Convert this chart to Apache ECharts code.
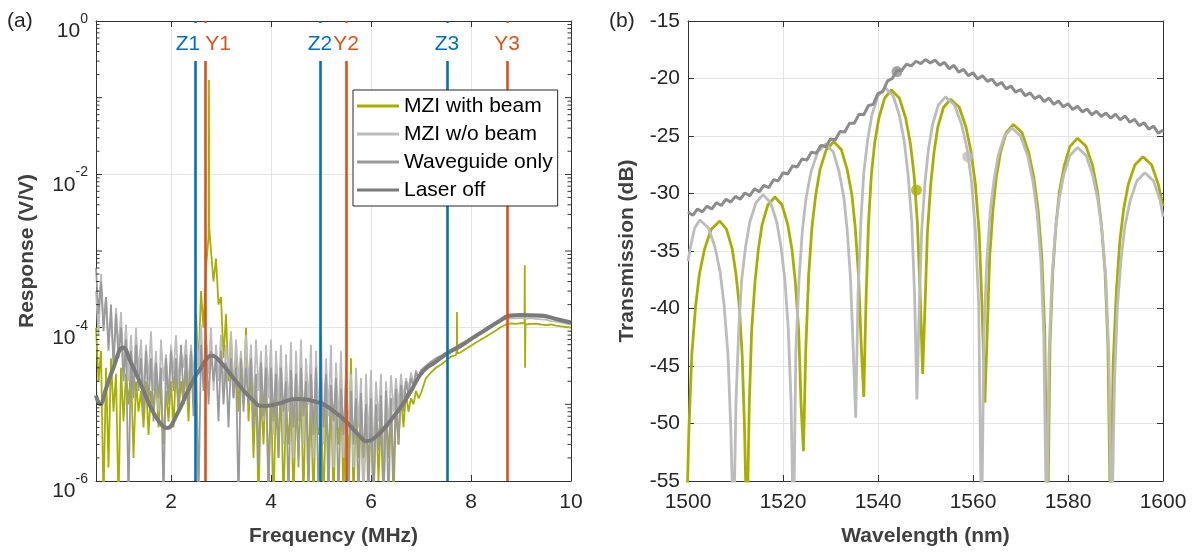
<!DOCTYPE html>
<html><head><meta charset="utf-8">
<script src="https://cdn.jsdelivr.net/npm/echarts@6/dist/echarts.min.js"></script>
<style>html,body{margin:0;padding:0;background:#fff}#c{width:1195px;height:552px}</style>
</head><body><div id="c"></div>
<script>
const FONT = '"Liberation Sans", Arial, Helvetica, sans-serif';

// ---------- Panel (a): frequency response ----------
const freqNoisy = [
0.5,0.55,0.6,0.65,0.7,0.75,0.8,0.85,0.9,0.95,
1,1.05,1.1,1.15,1.2,1.25,1.3,1.35,1.4,1.45,
1.5,1.55,1.6,1.65,1.7,1.75,1.8,1.85,1.9,1.95,
2,2.05,2.1,2.15,2.2,2.25,2.3,2.35,2.4,2.45,
2.5,2.55,2.6,2.65,2.7,2.75,2.8,2.85,2.9,2.95,
3,3.05,3.1,3.15,3.2,3.25,3.3,3.35,3.4,3.45,
3.5,3.55,3.6,3.65,3.7,3.75,3.8,3.85,3.9,3.95,
4,4.05,4.1,4.15,4.2,4.25,4.3,4.35,4.4,4.45,
4.5,4.55,4.6,4.65,4.7,4.75,4.8,4.85,4.9,4.95,
5,5.05,5.1,5.15,5.2,5.25,5.3,5.35,5.4,5.45,
5.5,5.55,5.6,5.65,5.7,5.75,5.8,5.85,5.9,5.95,
6,6.05,6.1,6.15,6.2,6.25,6.3,6.35,6.4,6.45,
6.5,6.55,6.6,6.65,6.7,6.75,6.8,6.85,6.9,6.95,
7,7.1,7.2,7.3,7.4,7.5,7.6,7.7,7.8,7.9,
8,8.1,8.2,8.3,8.4,8.5,8.6,8.7,8.8,8.9,
9,9.1,9.2,9.3,9.4,9.5,9.6,9.7,9.8,9.9,
10];

const mziBeam = [
1e-4,2e-5,5e-5,5e-7,3e-5,1.5e-6,4e-5,8e-6,2.5e-5,5e-7,
3e-5,6e-6,2.5e-5,1e-5,3e-5,2e-6,2e-5,8e-6,1.5e-5,5e-6,
2e-5,4e-6,1.5e-5,7e-6,2.5e-5,5e-6,1.8e-5,3e-6,1.5e-5,6e-6,
2e-5,5e-6,3e-5,8e-6,2e-5,1e-5,3e-5,6e-6,5e-5,1e-5,
1.5e-4,3e-5,3e-4,1e-4,6e-4,1.5e-3,1e-3,4e-4,8e-4,2e-4,
2.5e-4,4e-5,1.5e-4,2e-5,8e-5,1.5e-5,5e-5,8e-6,4e-5,1e-5,
1e-4,6e-6,3e-5,2e-6,2e-5,5e-7,1.5e-5,3e-6,2e-5,1e-6,
1.5e-5,5e-7,1.2e-5,2e-6,1.8e-5,5e-7,1e-5,3e-6,1.5e-5,5e-7,
1.2e-5,2e-6,1.8e-5,5e-7,2.5e-5,1.5e-6,1e-5,5e-7,1.5e-5,4e-6,
1.2e-5,5e-7,1e-5,2e-6,1.5e-5,5e-7,1.2e-5,3e-6,2e-5,5e-7,
3e-5,1e-6,4e-5,5e-7,1.2e-5,2e-6,8e-6,5e-7,1e-5,1.5e-6,
8e-6,5e-7,1e-5,1e-6,7e-6,5e-7,9e-6,2e-6,1.2e-5,5e-7,
1e-5,3e-6,1.3e-5,5e-6,1.4e-5,8e-6,1.2e-5,1e-5,1.5e-5,1.2e-5,
1.4e-5,2.2e-5,2.6e-5,3e-5,3.3e-5,3.7e-5,4.2e-5,4.4e-5,4.8e-5,5.3e-5,
5.8e-5,6.4e-5,7e-5,7.6e-5,8.4e-5,9.2e-5,1.02e-4,1.1e-4,1.14e-4,1.12e-4,
1.15e-4,1.1e-4,1.12e-4,1.13e-4,1.1e-4,1.08e-4,1.1e-4,1.06e-4,1.04e-4,1.02e-4,
1e-4];
const mziBeamSpikeFreq = [2.755, 2.76, 2.765, 7.71, 7.715, 7.72, 7.725, 7.73, 9.07, 9.075, 9.082, 9.09];
const mziBeamSpikeVals = [2e-3, 0.17, 2e-3, 4.5e-5, 5e-5, 1.6e-4, 5e-5, 4.6e-5, 1.14e-4, 6.5e-4, 3e-5, 1.1e-4];

const mziNoBeam = [
3e-4,8e-5,5e-4,1.2e-4,2.5e-4,6e-5,1.5e-4,4e-5,1.8e-4,5e-5,
1.6e-4,3e-5,1.1e-4,2e-5,8e-5,1.5e-5,1e-4,2.5e-5,7e-5,1.2e-5,
6e-5,2e-5,9e-5,1.5e-5,5e-5,8e-6,7e-5,2e-5,4.5e-5,1.2e-5,
6e-5,2.5e-5,8e-5,1.8e-5,5e-5,3e-5,7e-5,1.5e-5,6e-5,2.2e-5,
9e-5,3e-5,1.1e-4,2e-5,8e-5,2.5e-5,1e-4,1.5e-5,6e-5,2e-5,
8e-5,1.5e-5,6e-5,2.5e-5,9e-5,1.2e-5,7e-5,2e-5,5e-5,1e-5,
8e-5,1.8e-5,6e-5,8e-6,7e-5,1.5e-5,5e-5,6e-6,6e-5,1.2e-5,
7e-5,4e-6,5e-5,1e-5,6e-5,3e-6,4.5e-5,8e-6,6.5e-5,2e-6,
5e-5,6e-6,7e-5,3e-6,4e-5,1e-5,6e-5,2e-6,5e-5,5e-6,
8e-5,3e-6,4e-5,7e-6,6e-5,1.5e-6,3.5e-5,5e-6,5e-5,2e-6,
3e-5,4e-6,2.5e-5,1.5e-6,3e-5,5e-6,2.2e-5,5e-7,2.5e-5,3e-6,
2.8e-5,2e-6,2e-5,6e-6,2.5e-5,1.2e-6,2e-5,5e-6,2.4e-5,8e-6,
2.2e-5,9e-6,2.5e-5,1.2e-5,2.2e-5,1.6e-5,2.6e-5,1.8e-5,2.8e-5,2.2e-5,
2.6e-5,2.9e-5,3.3e-5,3.6e-5,4e-5,4.4e-5,4.8e-5,5.4e-5,5.8e-5,6.3e-5,
6.8e-5,7.5e-5,8.2e-5,9e-5,1e-4,1.1e-4,1.22e-4,1.3e-4,1.33e-4,1.32e-4,
1.34e-4,1.3e-4,1.33e-4,1.3e-4,1.28e-4,1.27e-4,1.22e-4,1.2e-4,1.16e-4,1.13e-4,
1.1e-4];

const waveguideOnly = [
6e-4,1.5e-4,4e-4,9e-5,2.5e-4,5e-5,2e-4,3e-5,1.5e-4,4e-5,
1e-4,2e-5,7e-5,5e-7,5e-5,1.2e-5,6e-5,1.5e-5,4e-5,8e-6,
5e-5,1e-5,4e-5,6e-6,3.5e-5,1.2e-5,3e-5,5e-7,4e-5,1e-5,
5e-5,1.5e-5,4e-5,8e-6,6e-5,1.2e-5,4.5e-5,1e-5,5e-5,7e-6,
7e-5,5e-7,6e-5,1.5e-5,8e-5,1e-5,5e-5,2e-5,4e-5,6e-6,
5e-5,1e-5,3.5e-5,5e-6,4e-5,1.2e-5,3e-5,5e-7,4e-5,8e-6,
3e-5,1e-5,4e-5,5e-6,2.5e-5,1.5e-6,3.5e-5,7e-6,3e-5,5e-7,
3e-5,6e-6,2.5e-5,2e-6,3e-5,8e-6,2e-5,5e-7,2.8e-5,5e-6,
2.5e-5,1.5e-6,3e-5,7e-6,2e-5,5e-7,2.5e-5,4e-6,3e-5,5e-7,
2e-5,5e-6,2.5e-5,5e-7,1.8e-5,6e-6,2.2e-5,5e-7,1.6e-5,4e-6,
2e-5,5e-7,1.5e-5,3e-6,1.2e-5,5e-7,1.4e-5,2e-6,1e-5,5e-7,
1.2e-5,5e-7,1e-5,2.5e-6,1.3e-5,5e-7,1.5e-5,5e-7,1.2e-5,1e-6,
1.6e-5,3e-6,1.8e-5,8e-6,2e-5,1.3e-5,2.2e-5,1.7e-5,2.6e-5,2.3e-5,
2.8e-5,3.2e-5,3.6e-5,4e-5,4.3e-5,4.7e-5,5.2e-5,5.6e-5,6.2e-5,6.7e-5,
7.2e-5,8e-5,8.8e-5,9.7e-5,1.07e-4,1.18e-4,1.3e-4,1.38e-4,1.4e-4,1.42e-4,
1.42e-4,1.41e-4,1.42e-4,1.4e-4,1.38e-4,1.36e-4,1.32e-4,1.27e-4,1.23e-4,1.19e-4,
1.16e-4];

const laserOffFreq = [0.5,0.58,0.7,0.85,1.04,1.2,1.4,1.6,1.8,1.92,2.1,2.4,2.6,2.82,3.0,3.3,3.6,3.84,4.1,4.52,4.98,5.24,5.5,5.75,5.92,6.1,6.3,6.58,6.8,7.04,7.3,7.52,7.8,8.04,8.3,8.58,8.78,9.0,9.38,9.7,10.0];
const laserOff = [1.3e-5,1e-5,1.6e-5,3e-5,5.5e-5,3.5e-5,1.8e-5,9e-6,5.5e-6,4.9e-6,7e-6,1.8e-5,3e-5,4.3e-5,3.5e-5,2e-5,1.2e-5,9.5e-6,1e-5,1.17e-5,1.04e-5,8.3e-6,6e-6,4e-6,3.3e-6,3.8e-6,5.2e-6,8.9e-6,1.5e-5,2.7e-5,3.6e-5,4.6e-5,5.8e-5,7.4e-5,9.5e-5,1.23e-4,1.44e-4,1.46e-4,1.44e-4,1.3e-4,1.17e-4];

const zFreqs = [2.48, 4.98, 7.52];
const zLabels = ['Z1', 'Z2', 'Z3'];
const yFreqs = [2.68, 5.5, 8.72];
const yLabels = ['Y1', 'Y2', 'Y3'];

const freqTicks = [2, 4, 6, 8, 10];
const logDecades = [1e-6, 1e-5, 1e-4, 1e-3, 1e-2, 1e-1];
const logMultipliers = [2, 3, 4, 5, 6, 7, 8, 9];
const oddDecades = [1e-5, 1e-3, 1e-1];

// ---------- Panel (b): transmission spectra ----------
const beamWl = [1499.6,1500.2,1500.8,1501.6,1502.4,1503.5,1504.9,1506.7,1508.1,1509.3,1510.1,1510.8,1511.4,1511.9,1512.4,
1512.9,1513.4,1514.1,1514.8,1515.6,1516.8,1518.3,1519.8,1521.0,1521.9,1522.6,1523.3,1523.8,1524.3,
1524.8,1525.4,1526.1,1526.9,1527.8,1529.1,1530.7,1532.3,1533.5,1534.5,1535.2,1535.9,1536.5,1537.0,
1537.5,1538.0,1538.6,1539.3,1540.2,1541.4,1542.8,1544.5,1545.8,1546.8,1547.6,1548.3,1548.9,1549.4,
1549.9,1550.4,1551.1,1551.8,1552.6,1553.8,1555.3,1557.1,1558.5,1559.6,1560.5,1561.3,1561.9,1562.5,
1563.0,1563.5,1564.2,1564.9,1565.8,1567.0,1568.5,1570.3,1571.7,1572.8,1573.7,1574.5,1575.1,1575.7,
1576.2,1576.8,1577.5,1578.2,1579.2,1580.4,1582.0,1583.8,1585.2,1586.2,1587.0,1587.8,1588.4,1589.0,
1589.5,1590.2,1590.9,1591.7,1592.7,1594.1,1595.8,1597.6,1599.0,1600.0];
const beamDb = [-60,-50.4,-44.0,-39.8,-37.0,-34.8,-33.1,-32.4,-33.1,-34.8,-37.0,-39.8,-44.0,-50.4,-60,
-48.3,-41.9,-37.7,-34.9,-32.7,-31.0,-30.3,-31.0,-32.7,-34.9,-37.7,-41.9,-48.3,-52.4,
-43.5,-37.1,-32.9,-30.1,-27.9,-26.2,-25.5,-26.2,-27.9,-30.1,-32.9,-37.1,-43.5,-47.7,
-39.0,-32.6,-28.4,-25.6,-23.4,-21.7,-21.0,-21.7,-23.4,-25.6,-28.4,-32.6,-39.0,-45.7,
-39.8,-33.4,-29.2,-26.4,-24.2,-22.5,-21.8,-22.5,-24.2,-26.4,-29.2,-33.4,-39.8,-48.2,
-42.0,-35.6,-31.4,-28.6,-26.4,-24.7,-24.0,-24.7,-26.4,-28.6,-31.4,-35.6,-42.0,-60,
-43.2,-36.8,-32.6,-29.8,-27.6,-25.9,-25.2,-25.9,-27.6,-29.8,-32.6,-36.8,-43.2,-60,
-44.8,-38.4,-34.2,-31.4,-29.2,-27.5,-26.8,-27.5,-29.2,-31.1];

const noBeamWl = [1500.0,1500.5,1501.4,1502.5,1504.3,1505.7,1506.8,1507.6,1508.4,1509.0,1509.6,
1510.1,1510.7,1511.3,1512.1,1513.0,1514.3,1515.8,1517.4,1518.7,1519.6,1520.4,1521.1,1521.7,1522.2,
1522.7,1523.4,1524.1,1524.9,1525.9,1527.3,1529.0,1530.6,1531.8,1532.8,1533.5,1534.2,1534.8,1535.3,
1535.8,1536.4,1537.0,1537.8,1538.7,1540.0,1541.5,1543.2,1544.5,1545.5,1546.3,1547.1,1547.7,1548.2,
1548.7,1549.2,1549.9,1550.6,1551.5,1552.7,1554.2,1556.1,1557.6,1558.8,1559.7,1560.5,1561.2,1561.8,
1562.3,1562.9,1563.6,1564.4,1565.3,1566.6,1568.2,1570.0,1571.5,1572.6,1573.5,1574.3,1574.9,1575.5,
1576.0,1576.6,1577.3,1578.1,1579.1,1580.4,1582.0,1583.8,1585.2,1586.3,1587.2,1588.0,1588.6,1589.2,
1589.8,1590.4,1591.2,1592.0,1593.1,1594.5,1596.2,1598.0,1599.4,1600.0];
const noBeamDb = [-35.9,-34.7,-33.0,-32.3,-33.0,-34.7,-36.9,-39.7,-43.9,-50.3,-60,
-48.1,-41.7,-37.5,-34.7,-32.5,-30.8,-30.1,-30.8,-32.5,-34.7,-37.5,-41.7,-48.1,-60,
-43.7,-37.3,-33.1,-30.3,-28.1,-26.4,-25.7,-26.4,-28.1,-30.3,-33.1,-37.3,-43.7,-49.5,
-38.8,-32.4,-28.2,-25.4,-23.2,-21.5,-20.8,-21.5,-23.2,-25.4,-28.2,-32.4,-38.8,-47.9,
-39.6,-33.2,-29.0,-26.2,-24.0,-22.3,-21.6,-22.3,-24.0,-26.2,-29.0,-33.2,-39.6,-60,
-42.3,-35.9,-31.7,-28.9,-26.7,-25.0,-24.3,-25.0,-26.7,-28.9,-31.7,-35.9,-42.3,-60,
-44.0,-37.6,-33.4,-30.6,-28.4,-26.7,-26.0,-26.7,-28.4,-30.6,-33.4,-37.6,-44.0,-60,
-46.2,-39.8,-35.6,-32.8,-30.6,-28.9,-28.2,-28.9,-30.6,-32.0];

const guideWl = [1500,1501,1502,1503,1504,1505,1506,1507,1508,1509,1510,1511,1512,1513,1514,1515,1516,1517,1518,1519,
1520,1521,1522,1523,1524,1525,1526,1527,1528,1529,1530,1531,1532,1533,1534,1535,1536,1537,1538,1539,
1540,1541,1542,1543,1544,1545,1546,1547,1548,1549,1550,1551,1552,1553,1554,1555,1556,1557,1558,1559,
1560,1561,1562,1563,1564,1565,1566,1567,1568,1569,1570,1571,1572,1573,1574,1575,1576,1577,1578,1579,
1580,1581,1582,1583,1584,1585,1586,1587,1588,1589,1590,1591,1592,1593,1594,1595,1596,1597,1598,1599,1600];
const guideDb = [-31.6,-31.9,-31.35,-31.6,-31.1,-31.35,-30.8,-31.05,-30.5,-30.75,-30.25,-30.5,-29.95,-30.2,-29.6,-29.85,-29.3,-29.5,-28.8,-28.9,
-28.2,-28.3,-27.6,-27.7,-27.0,-27.1,-26.4,-26.5,-25.8,-25.95,-25.25,-25.35,-24.6,-24.65,-23.9,-23.9,-23.1,-23.15,-22.35,-22.25,
-21.3,-21.15,-20.2,-20.0,-19.3,-19.3,-18.75,-18.9,-18.5,-18.7,-18.35,-18.65,-18.4,-18.85,-18.6,-19.15,-18.85,-19.45,-19.2,-19.75,
-19.5,-20.05,-19.75,-20.25,-20.05,-20.6,-20.35,-20.9,-20.65,-21.2,-20.95,-21.5,-21.25,-21.75,-21.5,-22.0,-21.7,-22.25,-21.95,-22.45,
-22.2,-22.7,-22.4,-22.9,-22.65,-23.15,-22.85,-23.3,-23.0,-23.45,-23.1,-23.6,-23.25,-23.8,-23.55,-24.1,-23.85,-24.4,-24.15,-24.75,-24.5];

const markerWl = [1544.0, 1548.1, 1558.9];
const markerDb = [-19.4, -29.7, -26.8];

// ---------- styles ----------
const C_BEAM = '#a7b000', C_NOBEAM = '#bcbcbc', C_GUIDE = '#9a9a9a', C_OFF = '#7a7a7a';
const C_GUIDE_B = '#8c8c8c';
const C_BLUE = '#0072bd', C_ORANGE = '#d95319';
const AX = '#333333', TXT = '#262626', GRID = '#e4e4e4';

const zip = (xs, ys) => xs.map((x, i) => [x, ys[i]]);
const beamPairs = zip(freqNoisy, mziBeam).concat(zip(mziBeamSpikeFreq, mziBeamSpikeVals)).sort((a, b) => a[0] - b[0]);

const minorTickData = [];
logDecades.forEach(d => logMultipliers.forEach(m => minorTickData.push([0.5, d * m, 3.5])));
oddDecades.forEach(d => minorTickData.push([0.5, d, 6]));

function vLineData(freqs, labels, padFn) {
  const out = [];
  freqs.forEach((f, i) => {
    out.push([{ name: labels[i], coord: [f, 1e-6], label: { padding: padFn(i) } }, { coord: [f, 0.3] }]);
    out.push([{ coord: [f, 1], label: { show: false } }, { coord: [f, 0.94] }]);
  });
  return out;
}

const baseLabel = { color: TXT, fontSize: 21, fontFamily: FONT };
const nameStyle = { color: '#404040', fontSize: 21, fontWeight: 'bold', fontFamily: FONT };

const chart = echarts.init(document.getElementById('c'), null, { renderer: 'canvas' });
const option = {
  animation: false,
  backgroundColor: '#fff',
  textStyle: { fontFamily: FONT },
  grid: [
    { left: 96, top: 21, width: 475, height: 460 },
    { left: 688, top: 21, width: 475, height: 460 }
  ],
  xAxis: [
    { gridIndex: 0, type: 'value', min: 0.5, max: 10, position: 'bottom',
      name: 'Frequency (MHz)', nameLocation: 'middle', nameGap: 45, nameTextStyle: nameStyle,
      axisLine: { lineStyle: { color: AX } },
      axisTick: { inside: true, length: 6, customValues: freqTicks, lineStyle: { color: AX } },
      axisLabel: { ...baseLabel, margin: 11, customValues: freqTicks },
      splitLine: { show: true, lineStyle: { color: GRID } } },
    { gridIndex: 0, type: 'value', min: 0.5, max: 10, position: 'top',
      axisLine: { lineStyle: { color: AX } },
      axisTick: { inside: true, length: 6, customValues: freqTicks, lineStyle: { color: AX } },
      axisLabel: { show: false }, splitLine: { show: false } },
    { gridIndex: 1, type: 'value', min: 1500, max: 1600, interval: 20, position: 'bottom',
      name: 'Wavelength (nm)', nameLocation: 'middle', nameGap: 45, nameTextStyle: nameStyle,
      axisLine: { lineStyle: { color: AX } },
      axisTick: { inside: true, length: 6, lineStyle: { color: AX } },
      axisLabel: { ...baseLabel, margin: 11, formatter: v => String(v) },
      splitLine: { show: true, lineStyle: { color: GRID } } },
    { gridIndex: 1, type: 'value', min: 1500, max: 1600, interval: 20, position: 'top',
      axisLine: { lineStyle: { color: AX } },
      axisTick: { inside: true, length: 6, lineStyle: { color: AX } },
      axisLabel: { show: false }, splitLine: { show: false } }
  ],
  yAxis: [
    { gridIndex: 0, type: 'log', logBase: 10, min: 1e-6, max: 1, interval: 2, position: 'left',
      name: 'Response (V/V)', nameLocation: 'middle', nameGap: 58, nameTextStyle: nameStyle,
      axisLine: { show: true, lineStyle: { color: AX } },
      axisTick: { inside: true, length: 6, lineStyle: { color: AX } },
      axisLabel: { margin: 8, padding: [12, 0, 0, 0],
        formatter: v => '{b|10}{s|' + Math.round(Math.log10(v)) + '}',
        rich: { b: { fontSize: 21, color: TXT, fontFamily: FONT, lineHeight: 30, verticalAlign: 'bottom' },
                s: { fontSize: 14, color: TXT, fontFamily: FONT, lineHeight: 14, verticalAlign: 'top' } } },
      splitLine: { show: true, lineStyle: { color: GRID } } },
    { gridIndex: 0, type: 'log', logBase: 10, min: 1e-6, max: 1, interval: 2, position: 'right',
      axisLine: { show: true, lineStyle: { color: AX } },
      axisTick: { inside: true, length: 6, lineStyle: { color: AX } },
      axisLabel: { show: false }, splitLine: { show: false } },
    { gridIndex: 1, type: 'value', min: -55, max: -15, interval: 5, position: 'left',
      name: 'Transmission (dB)', nameLocation: 'middle', nameGap: 50, nameTextStyle: nameStyle,
      axisLine: { show: true, lineStyle: { color: AX } },
      axisTick: { inside: true, length: 6, lineStyle: { color: AX } },
      axisLabel: { ...baseLabel, margin: 8 },
      splitLine: { show: true, lineStyle: { color: GRID } } },
    { gridIndex: 1, type: 'value', min: -55, max: -15, interval: 5, position: 'right',
      axisLine: { show: true, lineStyle: { color: AX } },
      axisTick: { inside: true, length: 6, lineStyle: { color: AX } },
      axisLabel: { show: false }, splitLine: { show: false } }
  ],
  legend: {
    data: ['MZI with beam', 'MZI w/o beam', 'Waveguide only', 'Laser off'],
    orient: 'vertical', left: 353, top: 90,
    icon: 'rect', itemWidth: 42, itemHeight: 3, itemGap: 6,
    padding: [5, 5, 5, 4],
    borderColor: '#262626', borderWidth: 1, borderRadius: 0, backgroundColor: '#fff',
    textStyle: { fontSize: 21, color: '#000', fontFamily: FONT, lineHeight: 22 },
    selectedMode: false, z: 20
  },
  graphic: [
    { type: 'text', left: 7, top: 11, style: { text: '(a)', fontSize: 21, fill: TXT, fontFamily: FONT } },
    { type: 'text', left: 609, top: 11, style: { text: '(b)', fontSize: 21, fill: TXT, fontFamily: FONT } }
  ],
  series: [
    { name: 'MZI with beam', type: 'line', xAxisIndex: 0, yAxisIndex: 0, data: beamPairs,
      showSymbol: false, lineStyle: { color: C_BEAM, width: 1.8 }, itemStyle: { color: C_BEAM } },
    { name: 'MZI w/o beam', type: 'line', xAxisIndex: 0, yAxisIndex: 0, data: zip(freqNoisy, mziNoBeam),
      showSymbol: false, lineStyle: { color: C_NOBEAM, width: 1.8 }, itemStyle: { color: C_NOBEAM } },
    { name: 'Waveguide only', type: 'line', xAxisIndex: 0, yAxisIndex: 0, data: zip(freqNoisy, waveguideOnly),
      showSymbol: false, lineStyle: { color: C_GUIDE, width: 1.8 }, itemStyle: { color: C_GUIDE } },
    { name: 'Laser off', type: 'line', xAxisIndex: 0, yAxisIndex: 0, data: zip(laserOffFreq, laserOff),
      showSymbol: false, smooth: 0.5, lineStyle: { color: C_OFF, width: 4 }, itemStyle: { color: C_OFF } },
    { name: 'Z markers', type: 'line', xAxisIndex: 0, yAxisIndex: 0, data: [], z: 5,
      markLine: { silent: true, symbol: 'none', animation: false,
        lineStyle: { color: C_BLUE, width: 2.6, type: 'solid' },
        label: { show: true, position: 'end', distance: 6, formatter: '{b}', color: C_BLUE, fontSize: 21, fontFamily: FONT },
        data: vLineData(zFreqs, zLabels, i => i === 0 ? [0, 14, 0, 0] : [0, 0, 0, 0]) } },
    { name: 'Y markers', type: 'line', xAxisIndex: 0, yAxisIndex: 0, data: [], z: 5,
      markLine: { silent: true, symbol: 'none', animation: false,
        lineStyle: { color: C_ORANGE, width: 2.6, type: 'solid' },
        label: { show: true, position: 'end', distance: 6, formatter: '{b}', color: C_ORANGE, fontSize: 21, fontFamily: FONT },
        data: vLineData(yFreqs, yLabels, i => i === 0 ? [0, 0, 0, 26] : [0, 0, 0, 0]) } },
    { name: 'log minor ticks', type: 'custom', xAxisIndex: 0, yAxisIndex: 0, data: minorTickData, silent: true, z: 10, clip: false,
      encode: { x: 0, y: 1 },
      renderItem: (params, api) => {
        const v = api.value(1), len = api.value(2);
        const pL = api.coord([0.5, v]), pR = api.coord([10, v]);
        return { type: 'group', children: [
          { type: 'line', shape: { x1: pL[0], y1: pL[1], x2: pL[0] + len, y2: pL[1] }, style: { stroke: AX, lineWidth: 1 } },
          { type: 'line', shape: { x1: pR[0], y1: pR[1], x2: pR[0] - len, y2: pR[1] }, style: { stroke: AX, lineWidth: 1 } }
        ] };
      } },

    { name: 'MZI with beam (b)', type: 'line', xAxisIndex: 2, yAxisIndex: 2, data: zip(beamWl, beamDb),
      showSymbol: false, lineStyle: { color: C_BEAM, width: 2.8 }, itemStyle: { color: C_BEAM } },
    { name: 'MZI w/o beam (b)', type: 'line', xAxisIndex: 2, yAxisIndex: 2, data: zip(noBeamWl, noBeamDb),
      showSymbol: false, lineStyle: { color: C_NOBEAM, width: 2.8 }, itemStyle: { color: C_NOBEAM } },
    { name: 'Waveguide only (b)', type: 'line', xAxisIndex: 2, yAxisIndex: 2, data: zip(guideWl, guideDb),
      showSymbol: false, lineStyle: { color: C_GUIDE_B, width: 3 }, itemStyle: { color: C_GUIDE_B } },
    { name: 'Operating points', type: 'scatter', xAxisIndex: 2, yAxisIndex: 2, symbolSize: 11, z: 6,
      data: markerWl.map((w, i) => ({ value: [w, markerDb[i]], itemStyle: { color: [C_GUIDE_B, C_BEAM, C_NOBEAM][i] } })) }
  ]
};
chart.setOption(option);
</script></body></html>
